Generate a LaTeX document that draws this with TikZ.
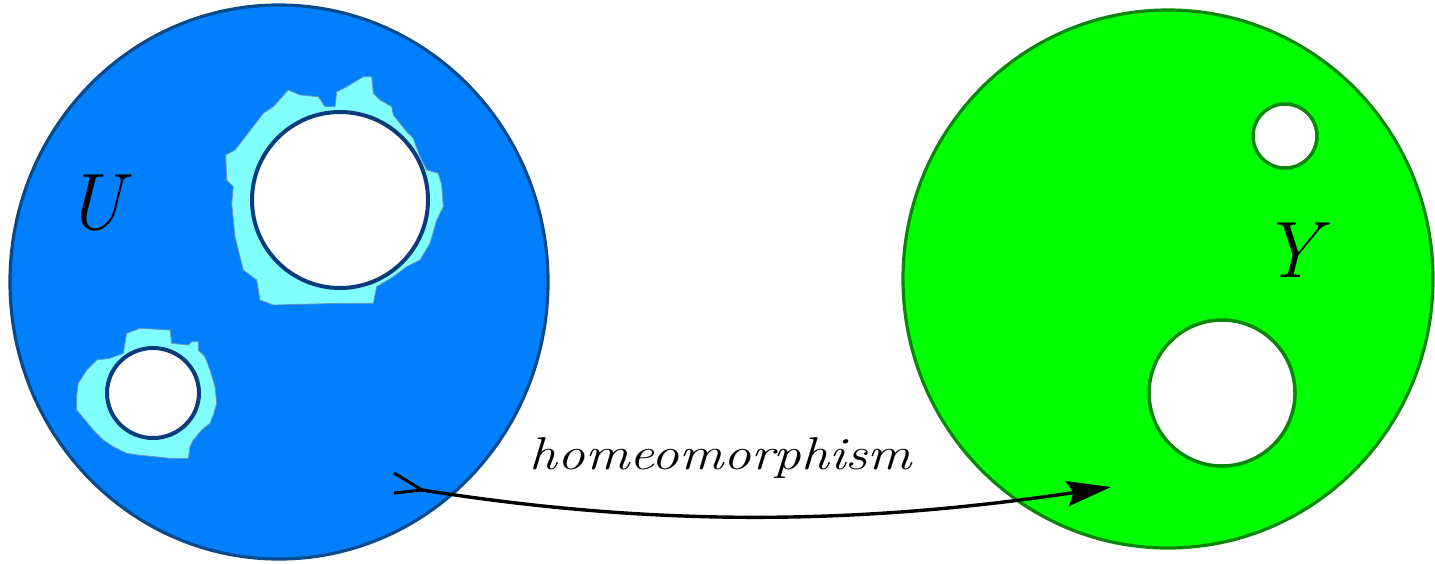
\documentclass[tikz,border=0pt]{standalone}
\usepackage{fontspec}
\usetikzlibrary{arrows.meta}
\definecolor{blueA}{RGB}{0,128,255}
\definecolor{blueB}{RGB}{8,74,140}
\definecolor{holeB}{RGB}{10,60,125}
\definecolor{cyanA}{RGB}{128,255,255}
\definecolor{greenA}{RGB}{0,255,0}
\definecolor{greenB}{RGB}{10,135,10}
\tikzset{
  bluedisk/.style={fill=blueA, draw=blueB, line width=3.2pt},
  greendisk/.style={fill=greenA, draw=greenB, line width=3.2pt},
  cyanpatch/.style={fill=cyanA, draw=blueB!60, line width=0.8pt},
  bluehole/.style={fill=white, draw=holeB, line width=4pt},
  greenhole/.style={fill=white, draw=greenB, line width=3.5pt},
  biglabel/.style={font=\rmfamily\fontsize{80}{90}\selectfont\itshape, inner sep=0pt},
  maplabel/.style={font=\rmfamily\fontsize{46}{50}\selectfont\itshape, inner sep=0pt},
  maparrow/.style={line width=3.4pt, -{Stealth[length=44pt,width=25pt,inset=6pt]}}
}
\begin{document}
\begin{tikzpicture}[x=1pt,y=-1pt]
\useasboundingbox (0,0) rectangle (1435,563);
% domains
\draw[bluedisk] (279,282) ellipse [x radius=269, y radius=277];
\draw[greendisk] (1168,279) ellipse [x radius=265, y radius=269];
% cyan neighbourhoods
\draw[cyanpatch] (225.7,155) -- (235,150) -- (246.7,135) -- (263.3,113.3) -- (273.3,106.7) -- (288.3,90) -- (300,95) -- (318.3,96.7) -- (325,106.7) -- (335,106.7) -- (336.7,91.7) -- (346.7,86.7) -- (363.3,76.7) -- (371.7,76.7) -- (373.3,93.3) -- (380,100) -- (391.7,106.7) -- (393.3,115) -- (406.7,131.7) -- (413.3,138.3) -- (420,156.7) -- (426.7,170) -- (438.3,173.3) -- (441.7,185) -- (443.3,206.7) -- (436.7,220) -- (430,243.3) -- (420,260) -- (406.7,266.7) -- (393.3,276.7) -- (376.7,286.7) -- (373.3,303.3) -- (340,303.3) -- (273.3,305) -- (260,300) -- (256.7,280) -- (243.3,270) -- (240,256.7) -- (235,236.7) -- (231.7,203.3) -- (233.3,186.7) -- (226.7,180) -- cycle;
\draw[cyanpatch] (76.7,395) -- (78.3,383.3) -- (86.7,370) -- (96.7,360) -- (110,358.3) -- (123.3,353.3) -- (126.7,333.3) -- (140,328.3) -- (170,330) -- (171.7,343.3) -- (188.3,345) -- (191.7,341.7) -- (198.3,341.7) -- (198.3,350) -- (205,356.7) -- (210,370) -- (215,386.7) -- (216.7,403.3) -- (213.3,415) -- (210,423.3) -- (201.7,430) -- (193.3,440) -- (190,446.7) -- (188.3,458.3) -- (170,458.3) -- (138.3,455) -- (126.7,453.3) -- (113.3,446.7) -- (103.3,440) -- (93.3,430) -- (85,420) -- (76.7,410) -- cycle;
% holes
\draw[bluehole] (340,200) circle [radius=88];
\draw[bluehole] (153,393) ellipse [x radius=46, y radius=45];
\draw[greenhole] (1285,136) circle [radius=32];
\draw[greenhole] (1222,393) circle [radius=73];
% labels
\node[biglabel, anchor=base] (U) at (95,229) {U};
\node[biglabel, anchor=base] (Y) at (1291,277) {Y};
\node[maplabel, anchor=base] (H) at (721,469) {\resizebox{382pt}{\height}{homeomorphism}};
% map
\coordinate (s) at (422,490);
\coordinate (t) at (1111,487);
\coordinate (s1) at (394,473);
\coordinate (s2) at (394,493);
\draw[line width=3pt] (s1) -- (s) -- (s2);
\draw[maparrow] (s) .. controls (650,526) and (850,526) .. (t);
\end{tikzpicture}
\end{document}
